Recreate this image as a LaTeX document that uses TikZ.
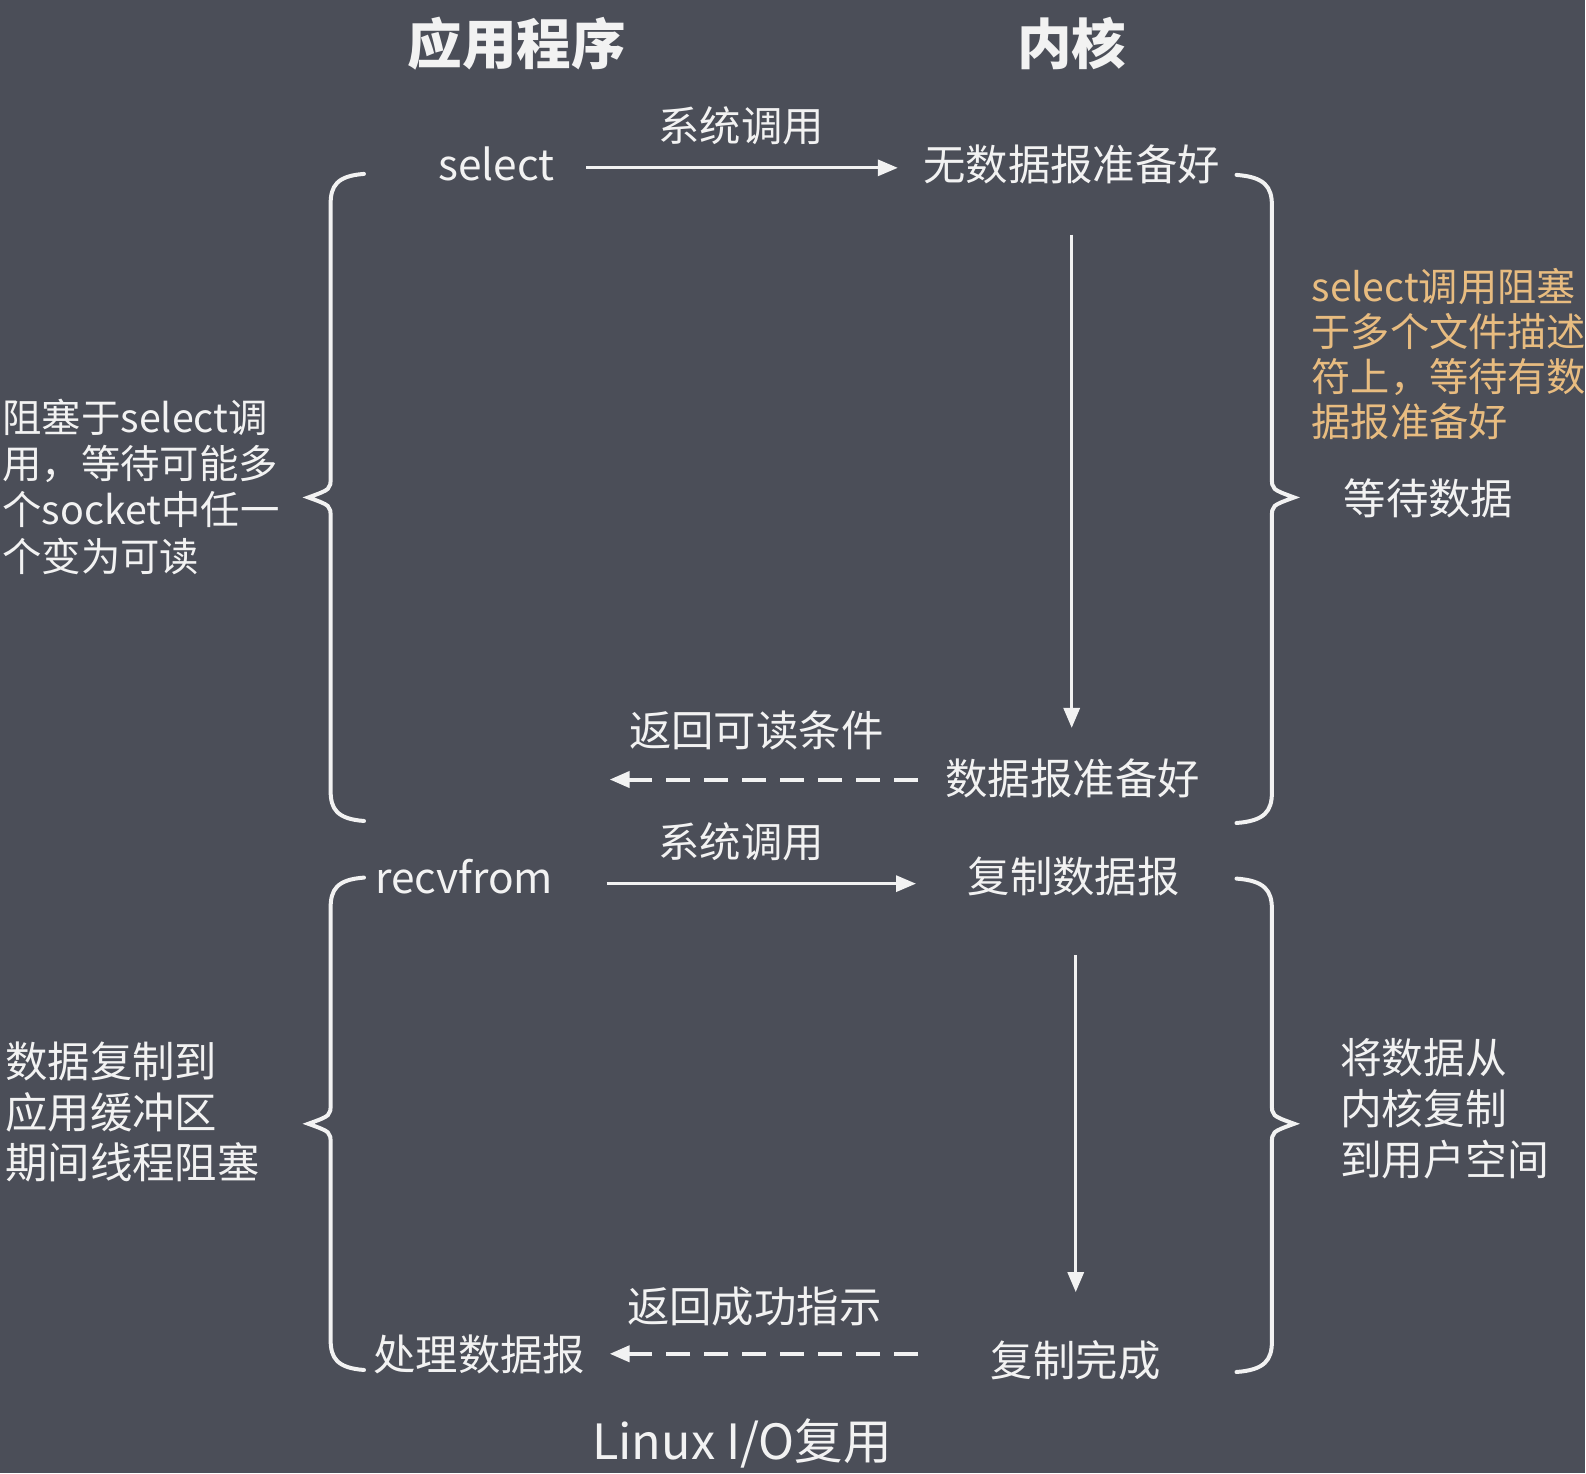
\documentclass[tikz,border=0pt]{standalone}
\usepackage{fontspec}
\setmainfont{Noto Sans CJK SC}
\usepackage{tikz}
\usetikzlibrary{arrows.meta,calc}
\tikzset{>={Triangle[length=10pt,width=8pt]}}
\definecolor{bgc}{RGB}{75,78,88}
\definecolor{fgc}{RGB}{242,242,242}
\definecolor{notec}{RGB}{232,188,128}

\begin{document}
\begin{tikzpicture}[x=0.50574pt,y=-0.50574pt,
    lbl/.style={text=fgc,inner sep=0pt,font=\fontsize{21.2}{25}\selectfont},
    brace/.style={draw=fgc,line width=2pt,line cap=round},
    flow/.style={->,draw=fgc,line width=1.6pt},
    back/.style={->,draw=fgc,line width=2pt,dash pattern=on 12pt off 7pt}]
            \fill[bgc] (0,0) rectangle (1568,1457.3);

            % titles
            \node[lbl,font=\fontsize{27.3}{30}\bfseries] (app) at (511,43) {应用程序};
            \node[lbl,font=\fontsize{27.3}{30}\bfseries] (kern) at (1060,43) {内核};

            % braces
            \foreach \t/\b in {172/812, 868/1355}
            {
            \draw[brace] (360,\t) .. controls (333,\t+2) and (327,\t+12) .. (327,\t+30)
                -- (327,{(\t+\b)/2-20}) .. controls (327,{(\t+\b)/2-8}) .. (305,{(\t+\b)/2})
                .. controls (327,{(\t+\b)/2+8}) .. (327,{(\t+\b)/2+20})
                -- (327,\b-30) .. controls (327,\b-12) and (333,\b-2) .. (360,\b);
            \draw[brace] (1223,\t+1) .. controls (1251,\t+3) and (1258,\t+13) .. (1258,\t+31)
                -- (1258,{(\t+\b)/2-20}) .. controls (1258,{(\t+\b)/2-8}) .. (1280,{(\t+\b)/2})
                .. controls (1258,{(\t+\b)/2+8}) .. (1258,{(\t+\b)/2+20})
                -- (1258,\b-28) .. controls (1258,\b-10) and (1251,\b) .. (1223,\b+2);
            }

            % select phase
            \node[lbl] (sel) at (491,162) {select};
            \node[lbl] (nodata) at (1060,163) {无数据报准备好};
            \node[lbl,font=\fontsize{20.7}{24}\selectfont] (call1) at (733,124) {系统调用};
            \node[lbl] (ready) at (1061,770) {数据报准备好};
            \node[lbl] (ret1) at (748,722) {返回可读条件};
            \coordinate (c1s) at (580,166);
            \coordinate (c1e) at (888,166);
            \coordinate (w1s) at (1060,232);
            \coordinate (w1e) at (1060,720);
            \coordinate (r1s) at (908,771);
            \coordinate (r1e) at (603,771);
            \draw[flow] (c1s) -- (c1e);
            \draw[flow] (w1s) -- (w1e);
            \draw[back] (r1s) -- (r1e);

            % recvfrom phase
            \node[lbl] (recv) at (459,867) {recvfrom};
            \node[lbl] (copy) at (1062,867) {复制数据报};
            \node[lbl,font=\fontsize{20.7}{24}\selectfont] (call2) at (733,833) {系统调用};
            \node[lbl] (done) at (1064,1345) {复制完成};
            \node[lbl] (handle) at (474,1340) {处理数据报};
            \node[lbl] (ret2) at (746,1292) {返回成功指示};
            \coordinate (c2s) at (600,874);
            \coordinate (c2e) at (906,874);
            \coordinate (w2s) at (1064,945);
            \coordinate (w2e) at (1064,1278);
            \coordinate (r2s) at (908,1339);
            \coordinate (r2e) at (603,1339);
            \draw[flow] (c2s) -- (c2e);
            \draw[flow] (w2s) -- (w2e);
            \draw[back] (r2s) -- (r2e);

            % side notes
            \node[lbl,anchor=west,align=left,font=\fontsize{19.7}{23.1}\selectfont] (block1) at (2,481.5)
                {阻塞于select调\\用，等待可能多\\个socket中任一\\个变为可读};
            \node[lbl,anchor=west,align=left,text=notec,font=\fontsize{19.6}{22.6}\selectfont] (selnote) at (1297,350)
                {select调用阻塞\\于多个文件描述\\符上，等待有数\\据报准备好};
            \node[lbl] (wait1) at (1413,493) {等待数据};
            \node[lbl,anchor=west,align=left,font=\fontsize{21.2}{25.3}\selectfont] (block2) at (5,1100)
                {数据复制到\\应用缓冲区\\期间线程阻塞};
            \node[lbl,anchor=west,align=left,font=\fontsize{20.9}{25.5}\selectfont] (copynote) at (1325,1096.5)
                {将数据从\\内核复制\\到用户空间};

            \node[lbl,font=\fontsize{24.3}{28}\selectfont] (cap) at (734,1428) {Linux I/O复用};
\end{tikzpicture}
\end{document}
